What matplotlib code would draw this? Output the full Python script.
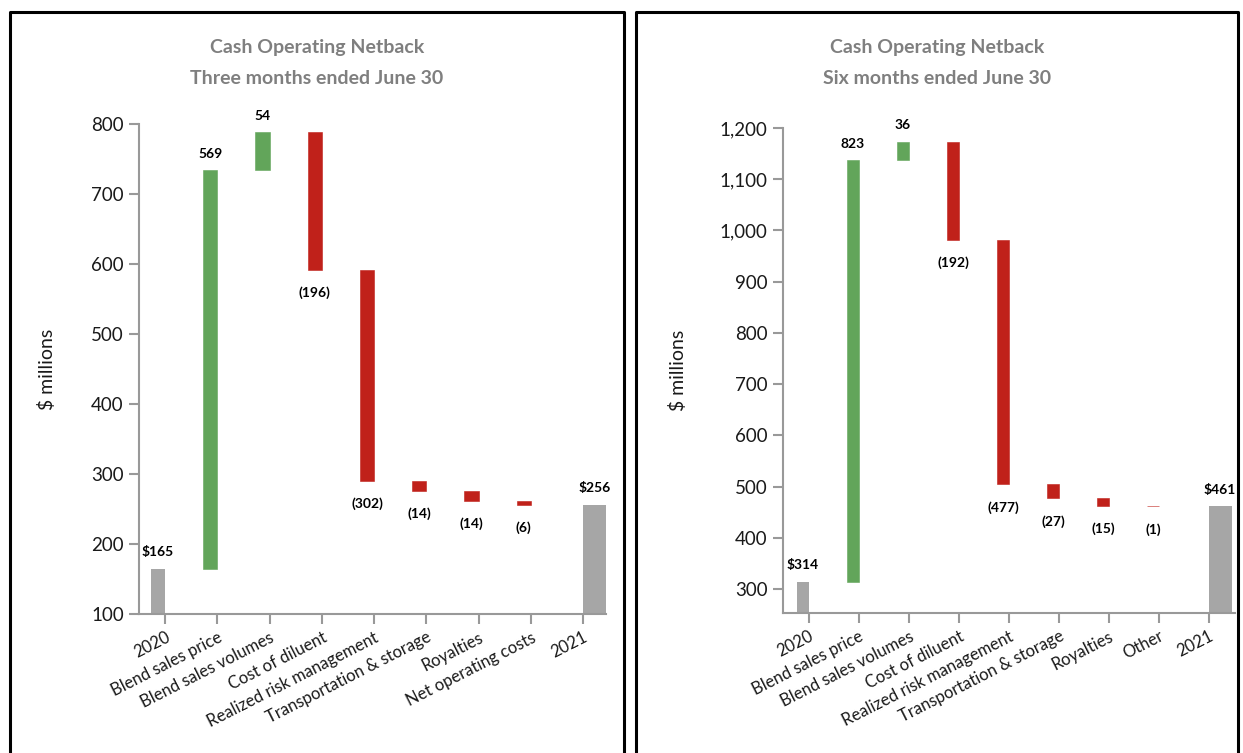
import matplotlib.pyplot as plt
from matplotlib.lines import Line2D
from matplotlib.ticker import FuncFormatter

# Data (C$ millions)
cats_q = ["2020", "Blend sales price", "Blend sales volumes", "Cost of diluent",
          "Realized risk management", "Transportation & storage", "Royalties",
          "Net operating costs", "2021"]
start_q = 165
deltas_q = [569, 54, -196, -302, -14, -14, -6]
end_q = 256

cats_h = ["2020", "Blend sales price", "Blend sales volumes", "Cost of diluent",
          "Realized risk management", "Transportation & storage", "Royalties",
          "Other", "2021"]
start_h = 314
deltas_h = [823, 36, -192, -477, -27, -15, -1]
end_h = 461

GREEN = "#62A55A"
RED = "#C0211A"
GREY = "#A6A6A6"
AXIS = "#999999"
TITLE = "#7F7F7F"

plt.rcParams['font.family'] = ['Lato', 'DejaVu Sans']

W, H = 1243, 753
fig = plt.figure(figsize=(W / 100, H / 100), dpi=100)


def draw_panel(ax, cats, start, deltas, end, ylim, yticks, bw, comma):
    lab = dict(textcoords='offset points', ha='center', va='center',
               fontsize=10, fontweight='bold')
    # opening total
    ax.bar(-bw, start, width=bw, align='edge', color=GREY)
    ax.annotate(f"${start}", (-bw / 2, start), xytext=(0, 12), **lab)
    level = start
    for i, d in enumerate(deltas, start=1):
        lo = level + min(d, 0)
        c = GREEN if d > 0 else RED
        ax.bar(i - bw, abs(d), width=bw, bottom=lo, align='edge',
               color=c, edgecolor=c, linewidth=0.4)
        if d > 0:
            ax.annotate(f"{d}", (i - bw / 2, level + d), xytext=(0, 12), **lab)
        else:
            ax.annotate(f"({-d})", (i - bw / 2, lo), xytext=(0, -16.5), **lab)
        level += d
    n = len(cats) - 1
    ax.bar(n, end, width=0.46, align='edge', color=GREY)
    ax.annotate(f"${end}", (n + 0.22, end), xytext=(0, 12), **lab)

    ax.set_ylim(*ylim)
    ax.set_yticks(yticks)
    if comma:
        ax.yaxis.set_major_formatter(FuncFormatter(lambda v, p: f"{int(v):,}"))
    ax.set_xticks(range(len(cats)))
    ax.set_xticklabels(cats, rotation=27, ha='right', rotation_mode='anchor',
                       fontsize=12)
    for s in ("top", "right"):
        ax.spines[s].set_visible(False)
    for s in ("left", "bottom"):
        ax.spines[s].set_color(AXIS)
        ax.spines[s].set_linewidth(1.5)
    ax.tick_params(axis='both', colors=AXIS, length=7, width=1.5, labelcolor="#1a1a1a")
    ax.tick_params(axis='y', labelsize=13.5, pad=4)
    ax.tick_params(axis='x', pad=4)
    ax.set_ylabel("$ millions", fontsize=14, color="#1a1a1a")


ax1 = fig.add_axes([139 / W, 1 - 614 / H, (606 - 139) / W, (614 - 124) / H])
draw_panel(ax1, cats_q, start_q, deltas_q, end_q, (100, 800),
           range(100, 801, 100), 0.27, False)
ax1.set_xlim(-0.5, 8.44)
ax1.yaxis.set_label_coords((56 - 139) / (606 - 139), 0.5)

ax2 = fig.add_axes([783 / W, 1 - 613 / H, (1235 - 783) / W, (613 - 128) / H])
draw_panel(ax2, cats_h, start_h, deltas_h, end_h, (253, 1200),
           range(300, 1201, 100), 0.24, True)
ax2.set_xlim(-0.52, 8.52)
ax2.yaxis.set_label_coords((687 - 783) / (1235 - 783), 0.5)

# titles
for cx, sub in ((317, "Three months ended June 30"), (937, "Six months ended June 30")):
    fig.text(cx / W, 1 - 48 / H, "Cash Operating Netback", ha='center', va='center',
             fontsize=14, fontweight='bold', color=TITLE)
    fig.text(cx / W, 1 - 78 / H, sub, ha='center', va='center',
             fontsize=14, fontweight='bold', color=TITLE)

# panel frames (open at the bottom)
for x0, x1 in ((10, 624), (636, 1238)):
    pts_x = [x0 / W, x0 / W, x1 / W, x1 / W]
    pts_y = [0, 1 - 12 / H, 1 - 12 / H, 0]
    fig.add_artist(Line2D(pts_x, pts_y, color='black', linewidth=2.2,
                          transform=fig.transFigure))

fig.savefig("out.png", dpi=100)
